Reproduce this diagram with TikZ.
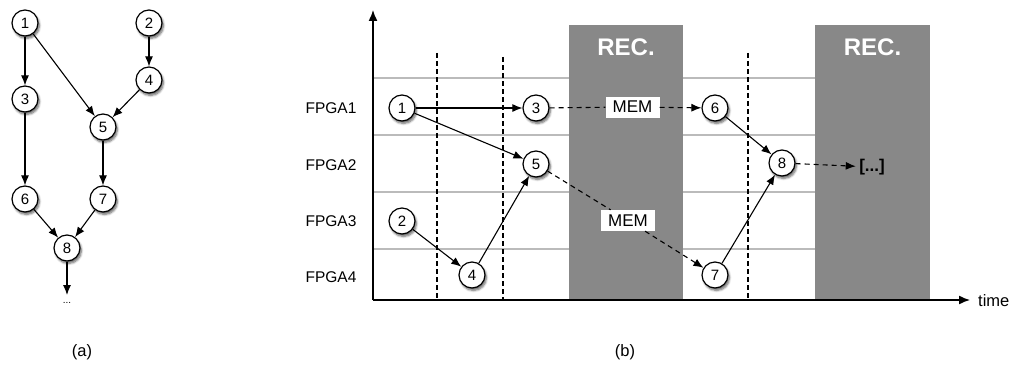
\documentclass[tikz,border=0pt]{standalone}
\usepackage{fontspec}
\setmainfont{Liberation Sans}
\usetikzlibrary{arrows.meta,shadows.blur}
\definecolor{recgray}{HTML}{888888}
\definecolor{gridgray}{HTML}{BBBBBB}
\tikzset{
  task/.style={circle, draw=black, line width=1.2pt, fill=white, minimum size=26pt,
    inner sep=0pt, font=\fontsize{15}{15}\selectfont,
    blur shadow={shadow xshift=1.5pt, shadow yshift=-2.5pt, shadow blur steps=6, shadow opacity=60}},
  dep/.style={line width=1.1pt, -{Latex[length=10pt,width=8pt]}},
  memdep/.style={dep, dash pattern=on 5pt off 4pt},
  memline/.style={line width=1.1pt, dash pattern=on 5pt off 4pt},
  membox/.style={fill=white, inner xsep=5pt, inner ysep=2pt, minimum height=21pt, minimum width=54pt,
    font=\fontsize{17}{17}\selectfont},
  rowlabel/.style={font=\fontsize{15.5}{15.5}\selectfont},
  caption/.style={font=\fontsize{16.5}{16.5}\selectfont},
  recbox/.style={fill=recgray, draw=none},
  rectext/.style={text=white, font=\fontsize{24}{24}\selectfont\bfseries},
  gridline/.style={draw=gridgray, line width=1.5pt},
  slot/.style={line width=1.1pt, dash pattern=on 5pt off 3pt},
  axis/.style={line width=1.4pt, -{Latex[length=11pt,width=9pt]}}
}
\begin{document}
\begin{tikzpicture}[x=1pt, y=-1pt]
\useasboundingbox (0,0) rectangle (1011,369);

% ---------- (a) task graph ----------
\node[task] (a1) at (25,23) {1};
\node[task] (a2) at (149,23) {2};
\node[task] (a4) at (149,80) {4};
\node[task] (a3) at (25,99) {3};
\node[task] (a5) at (103,127) {5};
\node[task] (a6) at (25,199) {6};
\node[task] (a7) at (103,199) {7};
\node[task] (a8) at (67,248) {8};
\coordinate (aout) at (67,295);
\node[font=\fontsize{10}{10}\selectfont] (adots) at (67,303) {...};

\draw[dep] (a1) -- (a3);
\draw[dep] (a1) -- (a5);
\draw[dep] (a2) -- (a4);
\draw[dep] (a4) -- (a5);
\draw[dep] (a3) -- (a6);
\draw[dep] (a5) -- (a7);
\draw[dep] (a6) -- (a8);
\draw[dep] (a7) -- (a8);
\draw[dep] (a8) -- (aout);

\node[caption] (capa) at (82,352) {(a)};

% ---------- (b) schedule ----------
% FPGA row separators
\foreach \y in {78,135,192,249} \draw[gridline] (373,\y) -- (815,\y);

% reconfiguration phases
\node[recbox, minimum width=114pt, minimum height=275pt, inner sep=0pt] (rec1) at (626,162.5) {};
\node[recbox, minimum width=115pt, minimum height=275pt, inner sep=0pt] (rec2) at (872.5,162.5) {};
\node[rectext] (rec1t) at (626,47) {REC.};
\node[rectext] (rec2t) at (872.5,47) {REC.};

% time-slot boundaries
\draw[slot] (437,53) -- (437,300);
\draw[slot] (503,57) -- (503,300);
\draw[slot] (748,53) -- (748,300);

% axes
\coordinate (orig) at (373,300);
\coordinate (ytop) at (373,10);
\coordinate (xend) at (970,300);
\draw[axis] (orig) -- (ytop);
\draw[axis] (orig) -- (xend);
\node[caption, anchor=west, inner sep=0pt] (timelbl) at (978,301) {time};

% row labels
\node[rowlabel] (f1) at (331,108) {FPGA1};
\node[rowlabel] (f2) at (331,165) {FPGA2};
\node[rowlabel] (f3) at (331,221) {FPGA3};
\node[rowlabel] (f4) at (331,277) {FPGA4};

% scheduled tasks
\node[task] (b1) at (402,108) {1};
\node[task] (b3) at (536,108) {3};
\node[task] (b5) at (536,164) {5};
\node[task] (b2) at (402,221) {2};
\node[task] (b4) at (472,275) {4};
\node[task] (b6) at (715,108) {6};
\node[task] (b8) at (782,163) {8};
\node[task] (b7) at (715,275) {7};

% memory transfers across reconfiguration
\node[membox] (m1) at (632.5,107) {MEM};
\node[membox] (m2) at (628,220.5) {MEM};
\node[font=\fontsize{17}{17}\selectfont\bfseries] (more) at (872,167) {[...]};

\draw[dep] (b1) -- (b3);
\draw[dep] (b1) -- (b5);
\draw[dep] (b2) -- (b4);
\draw[dep] (b4) -- (b5);
\draw[dep] (b6) -- (b8);
\draw[dep] (b7) -- (b8);
\draw[memline] (b3) -- (m1);
\draw[memdep] (m1) -- (b6);
\draw[memline] (b5) -- (m2);
\draw[memdep] (m2) -- (b7);
\draw[memdep] (b8) -- (more);

\node[caption] (capb) at (625,352) {(b)};
\end{tikzpicture}
\end{document}
